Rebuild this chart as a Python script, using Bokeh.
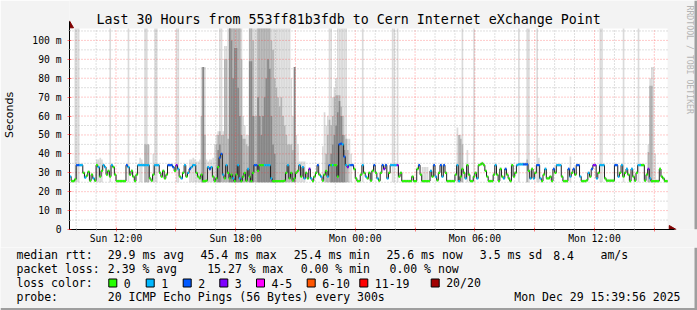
import math
from bokeh.plotting import figure
from bokeh.layouts import column
from bokeh.models import Range1d, FixedTicker, Label
from bokeh.core.properties import value
from bokeh.embed import file_html
from bokeh.resources import INLINE

# ---------------- data ----------------
start_hour = 9 + 40 / 60          # Sun 09:40
step_hours = 5 / 60               # 5 minute steps
n_steps = 360
end_hour = start_hour + n_steps * step_hours
y_top = 106.3                     # ms

median = [
    28, 25.6, 25.6, 26.5, 34, 34, 34, 34, 30, 27.5, 28.5, 30.5,
    25.8, 29, 27, 25.8, 34, 33, 28, 31, 34, 33, 29, 31,
    28, 34, 33, 29, 25.6, 25.6, 25.6, 25.6, 25.6, 25.6, 34, 33,
    29, 31, 28, 25.6, 29, 34, 34, 34, 34, 34, 34, 34,
    27, 25.8, 29, 34, 34, 34, 30, 28, 31, 27, 29, 34,
    34, 34, 33, 31, 34, 32, 28, 27, 30, 34, 28, 30,
    32, 33, 34, 34, 30, 28, 27, 29, 25.6, 25.6, 25.8, 33,
    32, 33, 28, 25.6, 27, 33, 38, 40, 29, 27, 34, 30,
    27, 29, 27, 25.6, 29, 34, 27, 25.6, 28, 30, 25.8, 32,
    28, 25.6, 30, 34, 34, 31, 34, 34, 34, 34, 34, 34,
    34, 27, 25.6, 25.6, 25.6, 25.6, 25.6, 25.6, 25.6, 25.8, 30, 34,
    27, 30, 25.8, 27, 30, 31, 34, 28, 33, 27, 30, 27,
    32, 27, 25.6, 28, 30, 34, 29, 28, 25.8, 29, 31, 28,
    34, 34, 34, 34, 34, 28, 45, 45.4, 45, 38.5, 34, 33,
    34, 34, 34, 32, 27, 25.6, 25.6, 29, 34, 30, 28, 27,
    30, 25.8, 31, 34, 30, 27, 25.8, 30, 34, 32, 34, 27,
    30, 34, 34, 34, 34, 34, 28, 30, 25.6, 25.6, 25.6, 25.6,
    25.6, 25.6, 28, 25.6, 25.6, 32, 34, 29, 25.6, 25.6, 25.6, 25.6,
    25.6, 31, 28, 34, 28, 26, 30, 34, 28, 34, 30, 25.6,
    25.6, 25.6, 25.6, 25.6, 29, 34, 25.6, 28, 32, 30, 27, 34,
    29, 25.6, 25.6, 28, 30, 27, 34, 34.5, 35, 34, 31, 28,
    25.6, 25.6, 25.6, 29, 34, 29, 25.6, 32, 28, 27, 32, 29,
    27, 25.6, 34, 28, 30, 34, 34.5, 34.5, 34.5, 34.5, 34.5, 34.5,
    31, 27, 32, 27, 30, 34, 34, 27, 25.6, 29, 32, 27,
    27, 28, 25.6, 32, 30, 34, 34, 34, 28, 25.6, 25.6, 25.6,
    32, 28, 30, 32, 29, 34, 34, 28, 25.6, 25.6, 25.6, 26,
    30, 28, 32, 34, 34, 27, 30, 34, 34, 34, 27, 25.8,
    25.8, 25.8, 25.8, 25.8, 34, 34, 28, 30, 34, 28, 30, 32,
    29, 25.6, 32, 28, 25.8, 30, 34, 34, 34, 34, 25.8, 29,
    32, 27, 25.6, 25.6, 25.6, 25.6, 25.6, 32, 28, 27, 25.6, 25.6,
]

loss = [
    1, 0, 0, 0, 2, 2, 1, 1, 0, 1, 0, 0,
    0, 0, 1, 0, 0, 1, 0, 0, 1, 1, 0, 0,
    0, 1, 0, 0, 0, 0, 0, 0, 0, 0, 2, 1,
    0, 0, 0, 0, 0, 1, 1, 1, 1, 1, 1, 1,
    0, 0, 0, 1, 1, 1, 0, 0, 0, 0, 0, 2,
    2, 2, 2, 0, 3, 1, 0, 1, 0, 1, 0, 1,
    2, 1, 1, 1, 0, 0, 0, 0, 0, 0, 0, 1,
    2, 1, 0, 0, 0, 0, 2, 2, 1, 0, 1, 0,
    0, 0, 1, 0, 0, 1, 1, 0, 0, 0, 0, 1,
    0, 0, 0, 2, 2, 0, 0, 0, 0, 1, 1, 1,
    1, 1, 0, 0, 0, 0, 0, 0, 0, 0, 0, 1,
    0, 0, 0, 0, 0, 0, 1, 0, 1, 1, 0, 0,
    3, 1, 0, 0, 0, 2, 0, 1, 0, 0, 0, 1,
    2, 0, 1, 0, 0, 0, 2, 2, 1, 2, 1, 3,
    1, 2, 2, 0, 0, 0, 0, 0, 1, 0, 1, 0,
    0, 0, 0, 2, 0, 1, 0, 0, 2, 3, 2, 1,
    0, 1, 1, 1, 1, 3, 0, 0, 0, 0, 0, 0,
    0, 0, 0, 0, 0, 0, 2, 0, 0, 0, 0, 0,
    0, 1, 0, 2, 1, 0, 0, 2, 1, 2, 0, 0,
    0, 0, 0, 0, 0, 1, 1, 0, 0, 0, 1, 0,
    0, 0, 0, 0, 0, 1, 0, 0, 0, 0, 0, 0,
    0, 0, 0, 0, 1, 0, 0, 0, 0, 1, 2, 0,
    0, 0, 0, 0, 0, 1, 1, 1, 1, 2, 2, 2,
    0, 1, 0, 1, 0, 2, 2, 1, 0, 0, 1, 0,
    0, 0, 0, 2, 0, 1, 1, 1, 0, 0, 0, 0,
    2, 1, 0, 2, 0, 2, 2, 1, 0, 0, 0, 0,
    1, 0, 2, 3, 3, 1, 0, 1, 1, 1, 0, 0,
    0, 0, 0, 0, 2, 2, 1, 0, 1, 0, 0, 1,
    0, 0, 1, 0, 0, 0, 1, 1, 0, 0, 0, 0,
    3, 1, 0, 0, 0, 0, 0, 0, 0, 0, 0, 0,
]

# smoke (ping spread) – light, medium and dark layers: step index and top (ms)
light_step = [3, 4, 5, 16, 17, 18, 19, 24, 35, 42, 43, 45, 46, 47, 50, 51, 52, 64, 65,
              72, 73, 74, 75, 76, 77, 78, 79, 80, 81, 82, 83, 84, 85, 86, 87, 88, 89,
              90, 91, 92, 93, 94, 95, 96, 97, 98, 99, 100, 101, 102, 103, 104, 105,
              106, 107, 108, 109, 110, 111, 112, 113, 114, 115, 116, 117, 118, 119,
              120, 121, 122, 123, 124, 125, 126, 127, 128, 129, 130, 131, 132, 133,
              134, 135, 136, 137, 138, 139, 140, 141,
              152, 153, 154, 155, 156, 157, 158, 159, 160, 161, 162, 163, 164, 165,
              166, 167, 168, 169, 176, 194, 195, 197, 212, 213, 214, 215,
              233, 234, 235, 236, 239, 243, 270, 275, 276, 281, 282,
              301, 319, 320, 333, 342, 348, 349, 350, 351, 352]
light_top = [110, 110, 110, 37, 37, 38, 37, 110, 110, 38, 37, 110, 110, 45, 40, 110, 110, 110, 110,
             37, 37, 38, 37, 36, 36, 37, 86, 86, 86, 37, 36, 37, 37, 38, 45, 50, 52,
             110, 110, 52, 97, 97, 110, 110, 110, 110, 110, 110, 110, 110, 110, 60, 55,
             50, 50, 110, 110, 110, 110, 110, 110, 110, 110, 110, 110, 110, 110,
             110, 110, 110, 110, 110, 110, 110, 110, 110, 110, 110, 110, 110, 80,
             60, 60, 50, 45, 36, 36, 36, 36,
             44, 62, 55, 60, 110, 110, 70, 75, 80, 110, 110, 110, 110, 110,
             110, 48, 48, 40, 110, 110, 110, 110, 33, 33, 33, 33,
             54, 50, 50, 110, 42, 110, 110, 110, 110, 110, 38,
             38.6, 110, 110, 110, 110, 45, 80, 86, 86, 40]

mid_step = [45, 46, 47, 79, 80, 81, 88, 89, 90, 91, 92, 93, 94, 95, 96, 97, 98, 99,
            100, 101, 102, 103, 104, 105, 106, 107, 108, 109, 110, 111, 112, 113,
            114, 115, 116, 117, 118, 119, 120, 121, 122, 123, 124, 125, 126, 127,
            128, 129, 130, 131, 132, 133, 134, 135,
            154, 155, 156, 157, 158, 159, 160, 161, 162, 163, 164, 165, 166, 167,
            234, 235, 236, 275, 348, 349, 350]
mid_top = [45, 45, 45, 60, 86, 50, 45, 50, 52, 50, 50, 90, 90, 48, 110, 110, 110, 110,
           110, 110, 110, 90, 48, 48, 45, 44, 110, 110, 100, 60, 60, 110,
           110, 110, 110, 110, 110, 110, 110, 100, 95, 80, 75, 70, 65, 70,
           60, 55, 50, 45, 45, 45, 42, 86,
           40, 50, 58, 55, 60, 70, 71, 71, 71, 65, 60, 50, 48, 42,
           50, 48, 45, 37, 41, 76, 76]

dark_step = [80, 89, 90, 96, 97, 98, 99, 100, 101, 102, 103, 108, 109, 110, 113, 114,
             115, 116, 117, 118, 119, 120, 121, 122, 123, 135,
             157, 158, 159, 160, 161, 162, 163, 164, 165]
dark_top = [86, 42, 45, 110, 100, 80, 96, 96, 75, 60, 50, 89, 89, 60, 70, 60,
            50, 60, 70, 80, 90, 85, 60, 45, 40, 86,
            40, 45, 50, 55, 62, 68, 60, 50, 42]

# axis ticks
x_major = [12, 15, 18, 21, 24, 27, 30, 33, 36, 39]
x_minor = [h for h in range(10, 40) if h % 3 != 0]
x_labels = {12: "Sun 12:00", 18: "Sun 18:00", 24: "Mon 00:00", 30: "Mon 06:00", 36: "Mon 12:00"}
y_major = [0, 10, 20, 30, 40, 50, 60, 70, 80, 90, 100]
y_minor = [5, 15, 25, 35, 45, 55, 65, 75, 85, 95, 105]
y_labels = ["0", "10 m", "20 m", "30 m", "40 m", "50 m", "60 m", "70 m", "80 m", "90 m", "100 m"]

loss_names = ["0", "1", "2", "3", "4-5", "6-10", "11-19", "20/20"]
loss_colors = ["#26ff00", "#00b8ff", "#0059ff", "#7e00ff", "#ff00ff", "#ff5500", "#ff0000", "#a10000"]

title_text = "Last 30 Hours from 553ff81b3fdb to Cern Internet eXchange Point"
row1 = ["median rtt:", "29.9 ms avg", "45.4 ms max", "25.4 ms min", "25.6 ms now",
        "3.5 ms sd", "8.4", "am/s"]
row2 = ["packet loss:", "2.39 % avg", "15.27 % max", "0.00 % min", "0.00 % now"]
probe_text = "20 ICMP Echo Pings (56 Bytes) every 300s"
stamp_text = "Mon Dec 29 15:39:56 2025"

# ---------------- layout constants (page pixels) ----------------
MONO = "DejaVu Sans Mono"
BG = "#F3F3F3"
W = 697
MAIN_H, LEG_H = 247, 63
FL, FR, FT, FB = 67, 667, 28, 229   # plot area edges

def px_x(px):
    return start_hour + (px - FL) * (end_hour - start_hour) / (FR - FL)

def px_y(py):
    return (FB - py) * y_top / (FB - FT)

def t_of(i):
    return start_hour + i * step_hours

p = figure(width=W, height=MAIN_H, x_range=Range1d(px_x(FL), px_x(W)),
           y_range=Range1d(0, px_y(0)), output_backend="svg", toolbar_location=None,
           min_border_left=FL, min_border_right=0, min_border_top=0,
           min_border_bottom=MAIN_H - FB,
           background_fill_color=BG, border_fill_color=BG, outline_line_color=None)
p.frame_align = False
p.xgrid.visible = False
p.ygrid.visible = False

# white plot area
p.quad(left=[start_hour], right=[end_hour], bottom=[0], top=[y_top],
       fill_color="white", line_color=None)

# smoke
smoke_lo = 25.0
base_below, base_above = 0.8, 1.0
p.quad(left=[t_of(i) for i in range(n_steps)], right=[t_of(i + 1) for i in range(n_steps)],
       bottom=[m - base_below for m in median], top=[m + base_above for m in median],
       fill_color="#E6E6E6", line_color=None)
for steps, tops, col in ((light_step, light_top, "#DADADA"),
                         (mid_step, mid_top, "#B2B2B2"),
                         (dark_step, dark_top, "#878787")):
    p.quad(left=[t_of(s) for s in steps], right=[t_of(s + 1) for s in steps],
           bottom=[smoke_lo] * len(steps), top=[min(t, y_top) for t in tops],
           fill_color=col, line_color=None)

# grid (dotted), drawn over the smoke like rrdtool does
grid_minor = dict(line_color="#8C8C8C", line_alpha=0.55, line_dash="1 2", line_width=1)
grid_major = dict(line_color="#FF3030", line_alpha=0.5, line_dash="1 2", line_width=1)
p.segment(x0=x_minor, y0=[0] * len(x_minor), x1=x_minor, y1=[y_top] * len(x_minor), **grid_minor)
p.segment(x0=[start_hour] * len(y_minor), y0=y_minor, x1=[end_hour] * len(y_minor), y1=y_minor,
          **grid_minor)
p.segment(x0=x_major, y0=[0] * len(x_major), x1=x_major, y1=[y_top] * len(x_major), **grid_major)
p.segment(x0=[start_hour] * (len(y_major) - 1), y0=y_major[1:],
          x1=[end_hour] * (len(y_major) - 1), y1=y_major[1:], **grid_major)

# median line (stepped)
xs = [t_of(i) for i in range(n_steps + 1)]
ys = median + [median[-1]]
p.step(xs, ys, mode="after", line_color="#202020", line_width=1)

def loss_bucket(l):
    if l <= 3:
        return l
    if l <= 5:
        return 4
    if l <= 10:
        return 5
    if l <= 19:
        return 6
    return 7

half = 0.6
p.quad(left=[t_of(i) for i in range(n_steps)], right=[t_of(i + 1) for i in range(n_steps)],
       bottom=[m - half for m in median], top=[m + half for m in median],
       fill_color=[loss_colors[loss_bucket(l)] for l in loss], line_color=None)

# axes
xt = FixedTicker(ticks=x_major, minor_ticks=x_minor)
yt = FixedTicker(ticks=y_major, minor_ticks=y_minor)
p.xaxis.ticker = xt
p.yaxis.ticker = yt
p.xaxis.bounds = (start_hour, px_x(674))
p.yaxis.bounds = (0, px_y(21))
p.xaxis.major_label_overrides = {float(h): x_labels.get(h, "") for h in x_major}
p.yaxis.major_label_overrides = {float(v): lab for v, lab in zip(y_major, y_labels)}
for ax in (p.xaxis[0], p.yaxis[0]):
    ax.axis_line_color = "black"
    ax.major_label_text_font = MONO
    ax.major_label_text_font_size = "9.7px"
    ax.major_label_text_color = "black"
    ax.major_tick_line_color = "#FF0000"
    ax.major_tick_line_alpha = 0.5
    ax.minor_tick_line_color = "#8C8C8C"
    ax.minor_tick_line_alpha = 0.7
    ax.major_tick_in = 2
    ax.major_tick_out = 2
    ax.minor_tick_in = 1
    ax.minor_tick_out = 1
p.xaxis.major_label_standoff = 1
p.yaxis.major_label_standoff = 6
p.yaxis.axis_label = "Seconds"
p.yaxis.axis_label_text_font = "DejaVu Sans"
p.yaxis.axis_label_text_font_size = "11px"
p.yaxis.axis_label_text_font_style = "normal"
p.yaxis.axis_label_text_color = "black"
p.yaxis.axis_label_standoff = 13

# axis arrow heads
p.scatter(x=[start_hour], y=[px_y(25)], marker="triangle", size=8,
          fill_color="#7F0000", line_color="#7F0000")
p.scatter(x=[px_x(671)], y=[0], marker="triangle", angle=-math.pi / 2, size=8,
          fill_color="#7F0000", line_color="#7F0000")

# title + watermark (inside the frame, canvas pixel units)
p.add_layout(Label(x=96, y=19, x_units="canvas", y_units="canvas", text=title_text,
                   text_font=MONO, text_font_size="13.3px", text_baseline="middle",
                   text_align="left", text_color="black"))
p.add_layout(Label(x=689, y=5, x_units="canvas", y_units="canvas", text="RRDTOOL / TOBI OETIKER",
                   text_font=MONO, text_font_size="8.2px", text_baseline="middle",
                   text_align="left", angle=-math.pi / 2, text_color="#B4B4B4"))
# right shade
p.quad(left=[px_x(694)], right=[px_x(W)], bottom=[0], top=[px_y(0)],
       fill_color="#9E9E9E", line_color=None)

# ---------------- legend block ----------------
q = figure(width=W, height=LEG_H, x_range=Range1d(0, W), y_range=Range1d(LEG_H, 0),
           output_backend="svg", toolbar_location=None, x_axis_location=None,
           y_axis_location=None, min_border_left=0, min_border_right=0, min_border_top=0,
           min_border_bottom=0, background_fill_color=BG, border_fill_color=BG,
           outline_line_color=None)
q.frame_align = False
q.xgrid.visible = False
q.ygrid.visible = False

def ly(page_y):
    return page_y - MAIN_H

row1_x = [16, 107.3, 200, 293.3, 386, 479.3, 552.7, 600]
row2_x = [16, 107.3, 206.7, 300.2, 389]
sq_x = [108.3, 145.7, 182.7, 219.3, 256, 306.7, 359.3, 430.7]
lx = row1_x + row2_x + [16] + [s + 15 for s in sq_x] + [16, 107.3]
lyy = ([ly(254.5)] * len(row1_x) + [ly(268.5)] * len(row2_x) + [ly(282.5)] +
       [ly(282.5)] * len(sq_x) + [ly(296.5)] * 2)
ltxt = row1 + row2 + ["loss color:"] + loss_names + ["probe:", probe_text]
q.text(x=lx, y=lyy, text=ltxt, text_font=value(MONO), text_font_size=value("11.5px"),
       text_baseline="middle", text_align="left", text_color="black")
q.text(x=[680], y=[ly(296.5)], text=[stamp_text], text_font=value(MONO),
       text_font_size=value("11.5px"), text_baseline="middle", text_align="right",
       text_color="black")
q.quad(left=sq_x, right=[s + 8 for s in sq_x], top=[ly(278.5)] * len(sq_x),
       bottom=[ly(286.5)] * len(sq_x), fill_color=loss_colors, line_color="black", line_width=1)
q.quad(left=[0, 694], right=[W, W], top=[ly(307.5), 0], bottom=[LEG_H, LEG_H],
       fill_color="#9E9E9E", line_color=None)

layout = column(p, q, spacing=0)
open("out.html", "w").write(file_html(layout, INLINE))
